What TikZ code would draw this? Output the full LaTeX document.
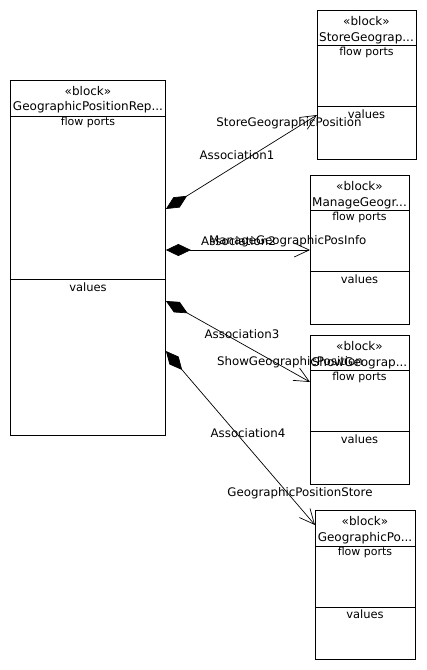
\documentclass[tikz,border=0pt]{standalone}
\usepackage{fontspec}
\setmainfont{DejaVu Sans}
\usetikzlibrary{arrows.meta,calc}
\tikzset{
  blockbox/.style={draw,line width=0.9pt,minimum width=#1,minimum height=149pt,anchor=north west,inner sep=0pt},
  txt/.style={inner sep=0pt,font=\fontsize{12}{14}\selectfont},
  lbl/.style={inner sep=0pt,font=\fontsize{11.8}{14}\selectfont},
  small/.style={inner sep=0pt,font=\fontsize{11}{13}\selectfont},
  valtxt/.style={inner sep=0pt,font=\fontsize{11.5}{13}\selectfont},
  assoc/.style={line width=0.7pt,{Diamond[length=25pt,width=12pt]}-{Straight Barb[length=15pt,width=14pt,line width=0.7pt]}},
  sep/.style={line width=0.8pt}
}
\begin{document}
\begin{tikzpicture}[x=1pt,y=-1pt]
\useasboundingbox (0,0) rectangle (427,670);
% main block
\node[blockbox=155pt,minimum height=355pt] (m) at (10,80) {};
\draw[sep] (10,116) -- (165,116);
\draw[sep] (10,279) -- (165,279);
\node[txt] (mst) at (88,91) {«block»};
\node[txt] (mnm) at (88,107) {GeographicPositionRep...};
\node[small] (mfp) at (88,122) {flow ports};
\node[valtxt] (mva) at (88,287) {values};
% block A
\node[blockbox=99pt] (a) at (317,10) {};
\draw[sep] (317,45) -- (416,45);
\draw[sep] (317,106) -- (416,106);
\node[txt] (ast) at (366.5,21) {«block»};
\node[txt] (anm) at (366.5,38) {StoreGeograp...};
\node[small] (afp) at (366.5,52) {flow ports};
\node[valtxt] (ava) at (366.5,114) {values};
% block B
\node[blockbox=99pt] (b) at (310,175) {};
\draw[sep] (310,210) -- (409,210);
\draw[sep] (310,271) -- (409,271);
\node[txt] (bst) at (359.5,186) {«block»};
\node[txt] (bnm) at (359.5,203) {ManageGeogr...};
\node[small] (bfp) at (359.5,217) {flow ports};
\node[valtxt] (bva) at (359.5,279) {values};
% block C
\node[blockbox=99pt] (c) at (310,335) {};
\draw[sep] (310,370) -- (409,370);
\draw[sep] (310,431) -- (409,431);
\node[txt] (cst) at (359.5,346) {«block»};
\node[txt] (cnm) at (359.5,363) {ShowGeograp...};
\node[small] (cfp) at (359.5,377) {flow ports};
\node[valtxt] (cva) at (359.5,439) {values};
% block D
\node[blockbox=100pt] (d) at (315,510) {};
\draw[sep] (315,546) -- (415,546);
\draw[sep] (315,607) -- (415,607);
\node[txt] (dst) at (365,521) {«block»};
\node[txt] (dnm) at (365,538) {GeographicPo...};
\node[small] (dfp) at (365,552) {flow ports};
\node[valtxt] (dva) at (365,614) {values};
% connectors
\draw[assoc] ([yshift=-129pt]m.north east) -- ([yshift=-105pt]a.north west);
\draw[assoc] ([yshift=-170pt]m.north east) -- ([yshift=-75pt]b.north west);
\draw[assoc] ([yshift=-221pt]m.north east) -- ([yshift=-47pt]c.north west);
\draw[assoc] ([yshift=-271pt]m.north east) -- ([yshift=-15pt]d.north west);
% labels
\node[lbl] (l1r) at (289,123) {StoreGeographicPosition};
\node[lbl] (l1) at (237,155) {Association1};
\node[lbl,anchor=west] (l2) at (201,241) {Association2};
\node[lbl,anchor=west] (l2r) at (209,241) {ManageGeographicPosInfo};
\node[lbl] (l3) at (242,334) {Association3};
\node[lbl] (l3r) at (290,362) {ShowGeographicPosition};
\node[lbl] (l4) at (248,433) {Association4};
\node[lbl] (l4r) at (300,493) {GeographicPositionStore};
\end{tikzpicture}
\end{document}
